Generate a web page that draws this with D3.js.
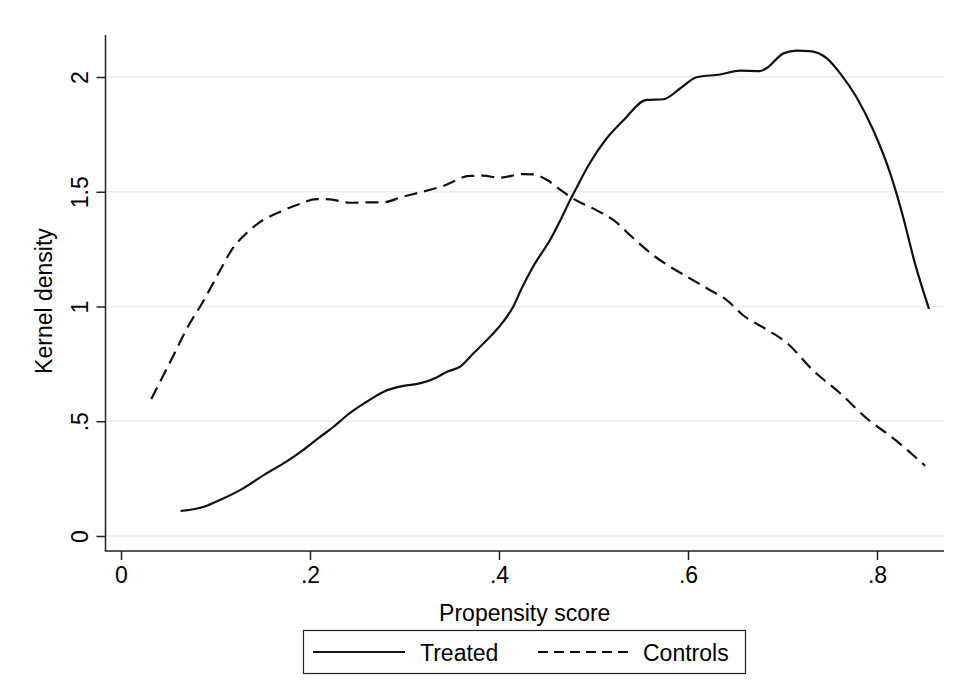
<!DOCTYPE html>
<html>
<head>
<meta charset="utf-8">
<script src="https://cdn.jsdelivr.net/npm/d3@7"></script>
<style>
body { margin: 0; background: #fff; }
text { font-family: "Liberation Sans", Arial, sans-serif; }
</style>
</head>
<body>
<script>
// propensity scores (x) and kernel density (y)
var treatedX = [0.063,0.091,0.101,0.126,0.154,0.175,0.193,0.211,0.225,0.242,0.260,0.278,0.299,0.316,0.334,0.345,0.359,0.373,0.390,0.399,0.415,0.424,0.436,0.454,0.479,0.496,0.514,0.532,0.556,0.574,0.592,0.609,0.634,0.655,0.676,0.683,0.701,0.715,0.729,0.747,0.761,0.778,0.796,0.814,0.827,0.840,0.855];
var treatedY = [0.109,0.132,0.150,0.200,0.273,0.324,0.375,0.433,0.476,0.535,0.585,0.629,0.654,0.665,0.691,0.716,0.738,0.796,0.866,0.906,0.999,1.079,1.173,1.290,1.493,1.624,1.733,1.813,1.900,1.903,1.951,1.999,2.011,2.028,2.026,2.038,2.103,2.115,2.113,2.081,2.016,1.914,1.769,1.580,1.400,1.190,0.990];

var controlsX = [0.032,0.052,0.073,0.086,0.105,0.117,0.133,0.147,0.168,0.189,0.207,0.221,0.242,0.260,0.277,0.298,0.316,0.341,0.369,0.383,0.401,0.425,0.436,0.451,0.465,0.478,0.503,0.521,0.542,0.563,0.578,0.599,0.623,0.641,0.658,0.684,0.705,0.732,0.761,0.789,0.817,0.851];
var controlsY = [0.597,0.758,0.928,1.015,1.159,1.246,1.320,1.368,1.412,1.447,1.468,1.467,1.452,1.454,1.454,1.478,1.497,1.525,1.569,1.570,1.561,1.577,1.576,1.551,1.508,1.471,1.420,1.377,1.298,1.224,1.181,1.130,1.072,1.028,0.963,0.898,0.840,0.723,0.622,0.513,0.426,0.306];

var xTicks = [0, 0.2, 0.4, 0.6, 0.8];
var yTicks = [0, 0.5, 1, 1.5, 2];
var seriesNames = ["Treated", "Controls"];

var w = 957;
var h = 700;
var plotLeft = 105.5;
var plotRight = 944;
var plotTop = 35;
var plotBottom = 551;

var fmt = function(d){ return String(d).replace(/^0\./, "."); };

var xScale = d3.scaleLinear()
				.domain([0, 0.8])
				.range([121, 877]);

var yScale = d3.scaleLinear()
				.domain([0, 2])
				.range([536, 77]);

var svg = d3.select("body")
			.append("svg")
			.attr("width", w)
			.attr("height", h);

// grid
svg.append("g").selectAll("line")
	.data(yTicks)
	.enter()
	.append("line")
	.attr("x1", plotLeft + 1)
	.attr("x2", plotRight)
	.attr("y1", function(d){ return yScale(d); })
	.attr("y2", function(d){ return yScale(d); })
	.attr("stroke", "#e6eef1")
	.attr("stroke-width", 1.5);

var yAxis = d3.axisLeft(yScale)
				.tickValues(yTicks)
				.tickFormat(fmt)
				.tickSize(9)
				.tickSizeOuter(0);

var xAxis = d3.axisBottom(xScale)
				.tickValues(xTicks)
				.tickFormat(fmt)
				.tickSize(9)
				.tickSizeOuter(0);

var gy = svg.append("g")
			.attr("transform", "translate(" + plotLeft + ",0)")
			.call(yAxis);

gy.selectAll("text")
	.attr("transform", "rotate(-90)")
	.attr("x", 0)
	.attr("y", -18)
	.attr("dy", 0)
	.attr("text-anchor", "middle");

var gx = svg.append("g")
			.attr("transform", "translate(0," + plotBottom + ")")
			.call(xAxis);

gx.selectAll("text")
	.attr("y", 16)
	.attr("dy", "0.71em");

svg.selectAll(".domain").remove();
svg.selectAll(".tick line")
	.attr("stroke", "#222")
	.attr("stroke-width", 1.5);
svg.selectAll(".tick text")
	.attr("font-size", "23px")
	.attr("font-family", "Liberation Sans, Arial, sans-serif")
	.attr("fill", "#000");

// axis lines
svg.append("line")
	.attr("x1", plotLeft).attr("x2", plotLeft)
	.attr("y1", plotTop).attr("y2", plotBottom)
	.attr("stroke", "#222").attr("stroke-width", 1.5);
svg.append("line")
	.attr("x1", plotLeft - 0.75).attr("x2", plotRight)
	.attr("y1", plotBottom).attr("y2", plotBottom)
	.attr("stroke", "#222").attr("stroke-width", 1.5);

// titles
svg.append("text")
	.attr("x", (plotLeft + plotRight) / 2)
	.attr("y", 621)
	.attr("text-anchor", "middle")
	.attr("font-size", "23px")
	.text("Propensity score");

svg.append("text")
	.attr("transform", "translate(52," + ((plotTop + plotBottom) / 2 + 8) + ") rotate(-90)")
	.attr("text-anchor", "middle")
	.attr("font-size", "23px")
	.text("Kernel density");

var line = d3.line()
				.x(function(d){ return xScale(d[0]); })
				.y(function(d){ return yScale(d[1]); })
				.curve(d3.curveMonotoneX);

var treated = d3.zip(treatedX, treatedY);
var controls = d3.zip(controlsX, controlsY);

svg.append("path")
	.attr("d", line(controls))
	.attr("fill", "none")
	.attr("stroke", "#111")
	.attr("stroke-width", 2.2)
	.attr("stroke-dasharray", "13,7");

svg.append("path")
	.attr("d", line(treated))
	.attr("fill", "none")
	.attr("stroke", "#111")
	.attr("stroke-width", 2.2);

// legend
var legend = svg.append("g");
legend.append("rect")
	.attr("x", 303.5)
	.attr("y", 630.5)
	.attr("width", 442)
	.attr("height", 43)
	.attr("fill", "#fff")
	.attr("stroke", "#222")
	.attr("stroke-width", 1.2);

legend.append("line")
	.attr("x1", 313).attr("x2", 405)
	.attr("y1", 652).attr("y2", 652)
	.attr("stroke", "#111").attr("stroke-width", 2.2);
legend.append("text")
	.attr("x", 420).attr("y", 661)
	.attr("font-size", "23px")
	.text(seriesNames[0]);

legend.append("line")
	.attr("x1", 538).attr("x2", 628)
	.attr("y1", 652).attr("y2", 652)
	.attr("stroke", "#111").attr("stroke-width", 2.2)
	.attr("stroke-dasharray", "10,6");
legend.append("text")
	.attr("x", 643).attr("y", 661)
	.attr("font-size", "23px")
	.text(seriesNames[1]);
</script>
</body>
</html>
